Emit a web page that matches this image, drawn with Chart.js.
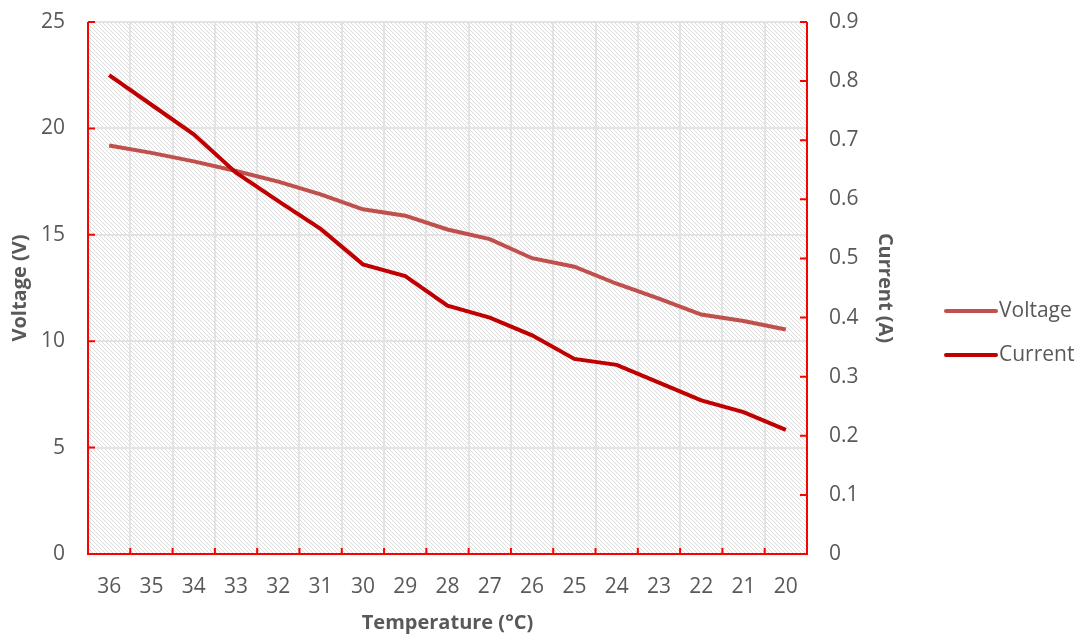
<!DOCTYPE html>
<html><head><meta charset="utf-8">
<script src="https://cdn.jsdelivr.net/npm/chart.js@4/dist/chart.umd.min.js"></script>
<style>html,body{margin:0;padding:0;background:#fff}#wrap{width:1081px;height:635px}</style>
</head><body><div id="wrap"><canvas id="c" width="1081" height="635"></canvas></div>
<script>
const categories = ['36','35','34','33','32','31','30','29','28','27','26','25','24','23','22','21','20'];
const voltage = [19.2,18.85,18.45,18.0,17.5,16.9,16.2,15.9,15.25,14.8,13.9,13.5,12.7,12.0,11.25,10.95,10.55];
const current = [0.81,0.76,0.71,0.645,0.597,0.55,0.49,0.47,0.42,0.40,0.37,0.33,0.32,0.29,0.26,0.24,0.21];
const seriesNames = ['Voltage','Current'];
const seriesColors = ['#c0504d','#c00000'];

const FONT = '"Open Sans", sans-serif';
const TXT = '#595959';

function makePattern(){
  const p = document.createElement('canvas'); p.width = 4; p.height = 4;
  const g = p.getContext('2d');
  g.fillStyle = '#ffffff'; g.fillRect(0,0,4,4);
  g.fillStyle = '#dcdcdc';
  for (let i=0;i<4;i++) g.fillRect(i,i,1,1);
  return document.getElementById('c').getContext('2d').createPattern(p,'repeat');
}
const pattern = makePattern();

const bgPlugin = {
  id:'bg',
  beforeDraw(chart){
    const {ctx, chartArea:a} = chart;
    ctx.save(); ctx.fillStyle = pattern; ctx.fillRect(a.left,a.top,a.right-a.left,a.bottom-a.top); ctx.restore();
  }
};
const axesPlugin = {
  id:'axesRed',
  afterDatasetsDraw(chart){
    const {ctx, chartArea:a, scales} = chart;
    ctx.save(); ctx.strokeStyle = '#ff0000'; ctx.lineWidth = 2;
    ctx.beginPath();
    ctx.moveTo(a.left, a.top); ctx.lineTo(a.left, a.bottom); ctx.lineTo(a.right, a.bottom); ctx.lineTo(a.right, a.top);
    scales.y.ticks.forEach(t=>{ const y = scales.y.getPixelForValue(t.value); ctx.moveTo(a.left, y); ctx.lineTo(a.left+7, y); });
    scales.y1.ticks.forEach(t=>{ const y = scales.y1.getPixelForValue(t.value); ctx.moveTo(a.right, y); ctx.lineTo(a.right-7, y); });
    const n = categories.length, w = (a.right-a.left)/n;
    for (let i=0;i<=n;i++){ const x = a.left + i*w; ctx.moveTo(x, a.bottom); ctx.lineTo(x, a.bottom-6); }
    ctx.stroke(); ctx.restore();
  }
};
const legendPlugin = {
  id:'customLegend',
  afterDraw(chart){
    const ctx = chart.ctx;
    ctx.save();
    ctx.font = '21px ' + FONT; ctx.textBaseline = 'middle'; ctx.textAlign = 'left';
    seriesNames.forEach((name,i)=>{
      const y = 311 + i*44;
      ctx.strokeStyle = seriesColors[i]; ctx.lineWidth = 4; ctx.lineCap = 'round';
      ctx.beginPath(); ctx.moveTo(946,y); ctx.lineTo(996,y); ctx.stroke();
      ctx.fillStyle = TXT; ctx.fillText(name, 999, y);
    });
    ctx.restore();
  }
};
function fitV(width){
  return function(s){ s.width = width; s.paddingTop = 0; s.paddingBottom = 0; };
}

new Chart(document.getElementById('c'), {
  type:'line',
  data:{
    labels: categories,
    datasets:[
      {label: seriesNames[0], data: voltage, yAxisID:'y', borderColor: seriesColors[0], backgroundColor: seriesColors[0], borderWidth:4, pointRadius:0, tension:0, order:1},
      {label: seriesNames[1], data: current, yAxisID:'y1', borderColor: seriesColors[1], backgroundColor: seriesColors[1], borderWidth:4, pointRadius:0, tension:0, order:0}
    ]
  },
  options:{
    responsive:false, animation:false, devicePixelRatio:1,
    layout:{padding:{top:22,left:0,right:179,bottom:0}},
    plugins:{legend:{display:false}, tooltip:{enabled:false}},
    scales:{
      x:{
        offset:true,
        grid:{offset:true, color:'#e3e3e3', lineWidth:2, drawTicks:false},
        border:{display:false},
        ticks:{color:TXT, font:{family:FONT, size:21}, padding:20, maxRotation:0, autoSkip:false},
        title:{display:true, text:'Temperature (°C)', color:TXT, font:{family:FONT, size:20, weight:'bold'}, padding:{top:0,bottom:0}},
        afterFit(s){ s.height = 81; s.paddingLeft = 0; s.paddingRight = 0; }
      },
      y:{
        position:'left', min:0, max:25,
        grid:{color:'#e3e3e3', lineWidth:2, drawTicks:false},
        border:{display:false},
        ticks:{stepSize:5, color:TXT, font:{family:FONT, size:21}, padding:23},
        title:{display:true, text:'Voltage (V)', color:TXT, font:{family:FONT, size:20, weight:'bold'}, padding:{top:8,bottom:0}},
        afterFit: fitV(88)
      },
      y1:{
        position:'right', min:0, max:0.9,
        grid:{display:false, drawTicks:false},
        border:{display:false},
        ticks:{stepSize:0.1, color:TXT, font:{family:FONT, size:21}, padding:22, callback:(v)=> (Math.round(v*10)/10).toString()},
        title:{display:true, text:'Current (A)', color:TXT, font:{family:FONT, size:20, weight:'bold'}, padding:{top:5,bottom:0}},
        afterFit: fitV(95)
      }
    }
  },
  plugins:[bgPlugin, axesPlugin, legendPlugin]
});
</script></body></html>
